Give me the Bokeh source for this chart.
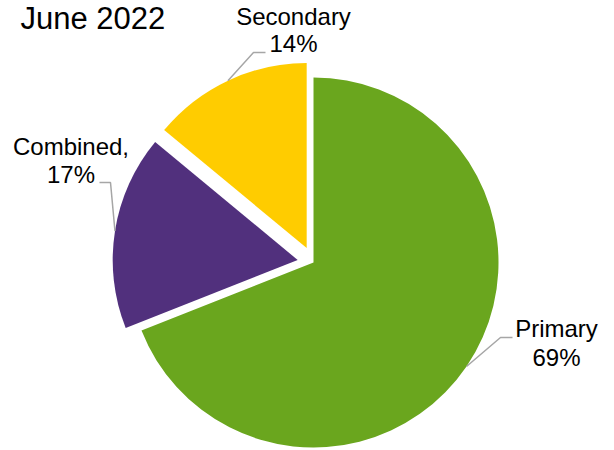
import math
from bokeh.plotting import figure
from bokeh.models import Range1d, ColumnDataSource
from bokeh.core.properties import value
from bokeh.embed import file_html
from bokeh.resources import INLINE

# ---- data ----
title = "June 2022"
categories = ["Primary", "Combined", "Secondary"]
shares = [69, 17, 14]
label_sep = ["", ",", ""]
colors = ["#6AA61E", "#51307D", "#FFCC00"]

# ---- style ----
explode = [0, 16, 16]
R = 185
W, H = 614, 450
CX, CY = 313, 262          # pie centre on the canvas, px
FONT = "Liberation Sans"
TEXT_SHIFT = 9             # compensate baseline rendering
# label anchor (centre x, first baseline y), pie-centred px, y up
label_pos = [(243, -75), (-242.5, 107), (-20, 237)]
line2_dy = [29, 28, 27]
# leader: elbow x, end x, y
leader = [(187, 199, -75), (-203, -214, 80), (-60, -48, 210)]

p = figure(width=W, height=H, output_backend="svg", toolbar_location=None,
           x_range=Range1d(-CX, W - CX), y_range=Range1d(-(H - CY), CY),
           min_border=0, background_fill_color="white", border_fill_color="white")
p.axis.visible = False
p.grid.visible = False
p.outline_line_color = None

total = sum(shares)
xs, ys, sa, ea, mids = [], [], [], [], []
cum = 0
for s, e in zip(shares, explode):
    a0 = math.radians(90 - cum / total * 360)
    cum += s
    a1 = math.radians(90 - cum / total * 360)
    m = (a0 + a1) / 2
    xs.append(e * math.cos(m))
    ys.append(e * math.sin(m))
    sa.append(a0)
    ea.append(a1)
    mids.append(m)

src = ColumnDataSource(dict(x=xs, y=ys, sa=sa, ea=ea, color=colors, cat=categories))
p.wedge(x="x", y="y", radius=R, start_angle="sa", end_angle="ea", direction="clock",
        fill_color="color", line_color=None, source=src)

# leader lines
lx, ly = [], []
for i in range(3):
    px0 = xs[i] + R * math.cos(mids[i])
    py0 = ys[i] + R * math.sin(mids[i])
    ex, endx, yy = leader[i]
    lx.append([px0, ex, endx])
    ly.append([py0, yy, yy])
p.multi_line(xs=lx, ys=ly, line_color="#A6A6A6", line_width=1.5)

# labels
t1x, t1y, t1 = [], [], []
t2x, t2y, t2 = [], [], []
for i in range(3):
    x0, y0 = label_pos[i]
    y0 += TEXT_SHIFT
    t1x.append(x0); t1y.append(y0); t1.append(categories[i] + label_sep[i])
    t2x.append(x0); t2y.append(y0 - line2_dy[i]); t2.append(f"{shares[i]}%")
p.text(x=t1x + t2x, y=t1y + t2y, text=t1 + t2, text_align="center",
       text_baseline="alphabetic", text_font=value(FONT), text_font_size="24px",
       text_color="#000000")

p.text(x=[-293], y=[CY - 18], text=[title], text_align="left", text_baseline="alphabetic",
       text_font=value(FONT), text_font_size="31px", text_color="#000000")

open("out.html", "w").write(file_html(p, INLINE))
